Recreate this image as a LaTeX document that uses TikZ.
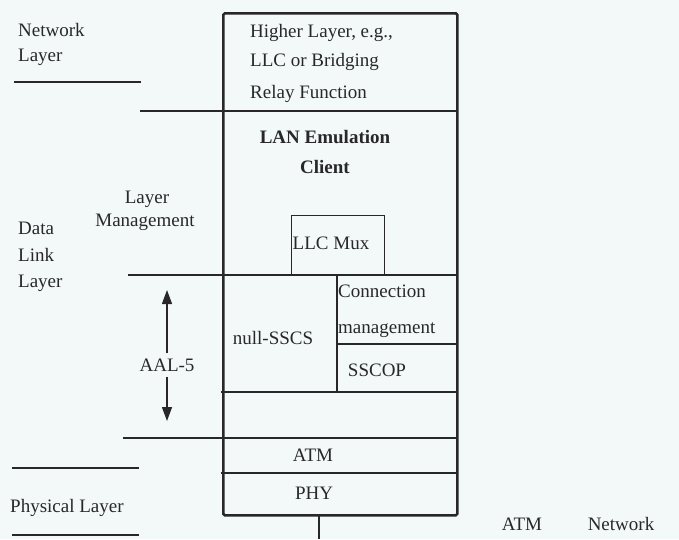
\documentclass[tikz,border=0pt]{standalone}
\usepackage{fontspec}
\setmainfont{Liberation Serif}
\usetikzlibrary{arrows.meta,positioning}
\definecolor{ink}{RGB}{40,40,40}
\definecolor{paper}{RGB}{243,249,249}

\begin{document}
\begin{tikzpicture}[x=1pt,y=-1pt,font=\fontsize{19}{23}\selectfont,color=ink,
  lbl/.style={inner sep=0pt,anchor=base west},
  ctr/.style={inner sep=0pt,anchor=base},
  thinline/.style={line width=1.3pt},
  frame/.style={line width=2.6pt,rounded corners=1.5pt}]
\fill[paper] (0,0) rectangle (679,539);
\useasboundingbox (0,0) rectangle (679,539);
% left column
\node[lbl] (netA) at (18,36) {Network};
\node[lbl] (netB) at (18,61) {Layer};
\draw[thinline] (14,82) -- (141,82);
\node[lbl] (dlA) at (18,234) {Data};
\node[lbl] (dlB) at (18,261) {Link};
\node[lbl] (dlC) at (18,287) {Layer};
\node[ctr] (mgmtA) at (147,203) {Layer};
\node[ctr] (mgmtB) at (145,226) {Management};
\draw[thinline] (12,468) -- (139,468);
\node[lbl] (phys) at (10,512) {Physical Layer};
\draw[thinline] (12,535) -- (139,535);
% AAL-5 span
\node[inner sep=5pt] (aal) at (167,365) {AAL-5};
\coordinate (aalTop) at (167,290);
\coordinate (aalBot) at (167,421);
\draw[thinline,-{Triangle[length=14pt,width=10pt]}] (aal) -- (aalTop);
\draw[thinline,-{Triangle[length=14pt,width=10pt]}] (aal) -- (aalBot);
% layer boundaries
\draw[thinline] (140,111) -- (456,111);
\draw[thinline] (128,275) -- (456,275);
\draw[thinline] (221,392) -- (456,392);
\draw[thinline] (123,438) -- (456,438);
\draw[thinline] (221,473) -- (456,473);
% stack
\node[draw,frame,minimum width=234,minimum height=502,anchor=north west] (stack) at (222,12) {};
\node[lbl] (hlA) at (250,37) {Higher Layer, e.g.,};
\node[lbl] (hlB) at (250,66) {LLC or Bridging};
\node[lbl] (hlC) at (250,98) {Relay Function};
\node[ctr,font=\fontsize{19}{23}\selectfont\bfseries] (lecA) at (325,143) {LAN Emulation};
\node[ctr,font=\fontsize{19}{23}\selectfont\bfseries] (lecB) at (325,173) {Client};
\node[draw,thinline,minimum width=93,minimum height=59,anchor=south west] (muxbox) at (291,275) {};
\node[ctr] (mux) at (331,249) {LLC Mux};
\draw[thinline] (337,275) -- (337,392);
\draw[thinline] (337,344) -- (456,344);
\node[lbl] (cmA) at (338,297) {Connection};
\node[lbl] (cmB) at (338,333) {management};
\node[ctr] (sscs) at (273,344) {null-SSCS};
\node[ctr] (sscop) at (377,376) {SSCOP};
\node[ctr] (atm) at (313,461) {ATM};
\node[ctr] (phy) at (314,499) {PHY};
% link to the network
\coordinate (net) at (319,539);
\draw[line width=1.6pt] (319,514) -- (net);
\node[ctr] (atmnet) at (522,530) {ATM};
\node[ctr] (network) at (621,530) {Network};
\end{tikzpicture}
\end{document}
